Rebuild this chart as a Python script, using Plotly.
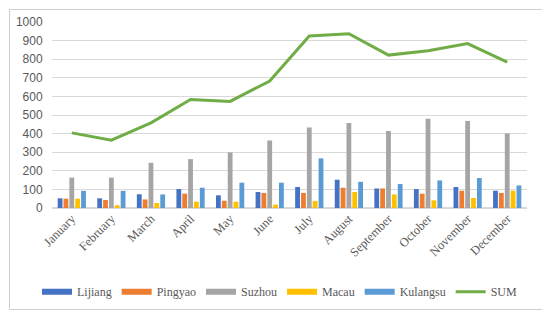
import plotly.graph_objects as go

months = ["January", "February", "March", "April", "May", "June", "July",
          "August", "September", "October", "November", "December"]
lijiang = [52, 52, 74, 102, 68, 86, 113, 152, 105, 102, 113, 93]
pingyao = [50, 43, 46, 77, 39, 81, 81, 109, 105, 77, 93, 81]
suzhou = [163, 163, 243, 263, 299, 363, 433, 457, 414, 480, 468, 401]
macau = [50, 15, 27, 34, 34, 18, 38, 86, 73, 41, 54, 93]
kulangsu = [92, 92, 73, 109, 136, 136, 267, 141, 129, 148, 161, 121]
total = [404, 365, 458, 583, 573, 683, 925, 937, 822, 845, 884, 784]

y_ticks = [0, 100, 200, 300, 400, 500, 600, 700, 800, 900, 1000]

series = [
    ("Lijiang", lijiang, "#4472C4"),
    ("Pingyao", pingyao, "#ED7D31"),
    ("Suzhou", suzhou, "#A5A5A5"),
    ("Macau", macau, "#FFC000"),
    ("Kulangsu", kulangsu, "#5B9BD5"),
]

fig = go.Figure()
for name, vals, col in series:
    fig.add_trace(go.Bar(x=months, y=vals, name=name, marker_color=col,
                         marker_line_width=0, showlegend=False))
fig.add_trace(go.Scatter(x=months, y=total, name="SUM", mode="lines",
                         line=dict(color="#70AD47", width=3), showlegend=False))

# legend entries
for name, vals, col in series:
    fig.add_trace(go.Scatter(x=[None], y=[None], name=name, mode="lines",
                             line=dict(color=col, width=6)))
fig.add_trace(go.Scatter(x=[None], y=[None], name="SUM", mode="lines",
                         line=dict(color="#70AD47", width=3)))

serif = "Liberation Serif"
# the page body adds an 8px offset; margins compensate for it
fig.update_layout(
    width=550, height=321,
    margin=dict(l=44, r=31, t=14, b=121),
    plot_bgcolor="white", paper_bgcolor="white",
    barmode="group", bargap=0.26, bargroupgap=0.18,
    legend=dict(orientation="h", x=(37 - 52) / 475, xanchor="left", y=-0.45, yanchor="middle",
                font=dict(family=serif, size=12, color="#595959"),
                itemwidth=30, tracegroupgap=0),
    xaxis=dict(tickangle=-45, tickfont=dict(family=serif, size=12.5, color="#595959"),
               showgrid=False, showline=False, ticks="", automargin=False),
    yaxis=dict(range=[0, 1000], tickvals=y_ticks,
               tickfont=dict(family="Liberation Sans", size=12, color="#595959"),
               gridcolor="#D9D9D9", gridwidth=1, zeroline=True, zerolinecolor="#D9D9D9",
               showline=False, ticks="outside", ticklen=6, tickcolor="rgba(0,0,0,0)",
               automargin=False),
    shapes=[dict(type="rect", xref="paper", yref="paper",
                 x0=(9.5 - 52) / 475, x1=(542.5 - 52) / 475,
                 y0=(208 - 309.5) / 186, y1=(208 - 9.5) / 186,
                 line=dict(color="#CFCFCF", width=1), fillcolor="rgba(0,0,0,0)",
                 layer="above")],
)

fig.write_html("out.html")
